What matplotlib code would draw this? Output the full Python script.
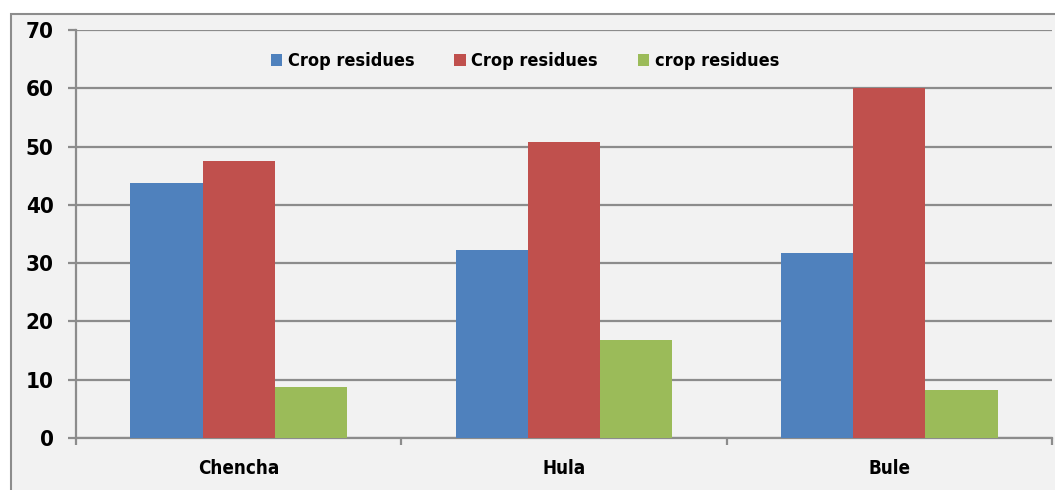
import numpy as np
import matplotlib
matplotlib.use("Agg")
import matplotlib.pyplot as plt
from matplotlib.patches import Rectangle

# residue shares per district
districts = ["Chencha", "Hula", "Bule"]
series_names = ["Crop residues", "Crop residues", "crop residues"]
blue_vals = [43.8, 32.2, 31.7]
red_vals = [47.5, 50.8, 60.0]
green_vals = [8.8, 16.8, 8.2]
colors = ["#4f81bd", "#c0504d", "#9bbb59"]

plt.rcParams['font.family'] = ['DejaVu Sans']
plt.rcParams['font.stretch'] = 'condensed'
plt.rcParams['font.weight'] = 'bold'

fig = plt.figure(figsize=(10.55, 4.9), dpi=100)
fig.patch.set_facecolor("white")

# grey chart area with frame on top and left
bg = Rectangle((11 / 1055, -0.1), 1.2, (490 - 14) / 490 + 0.1,
               transform=fig.transFigure, facecolor="#f2f2f2",
               edgecolor="#8c8c8c", linewidth=1.5, zorder=-10)
fig.patches.append(bg)

ax = fig.add_axes([76 / 1055, 52 / 490, (1052 - 76) / 1055, (438 - 30) / 490])
ax.set_facecolor("#f2f2f2")

x = np.arange(len(districts))
w = 1 / 4.5
for i, vals in enumerate([blue_vals, red_vals, green_vals]):
    ax.bar(x + (i - 1) * w, vals, width=w, color=colors[i],
           label=series_names[i], zorder=3)

ax.set_xlim(-0.5, len(districts) - 0.5)
ax.set_ylim(0, 70)
ax.set_yticks(range(0, 71, 10))
ax.yaxis.grid(True, color="#8c8c8c", linewidth=1.6, zorder=1)
ax.set_axisbelow(True)

ax.set_xticks(x)
ax.set_xticklabels(districts, fontsize=13.5, fontweight="bold")
ax.tick_params(axis="x", length=0, pad=15)
ax.set_xticks(np.arange(-0.5, len(districts), 1), minor=True)
ax.tick_params(axis="x", which="minor", length=5, width=1.6, color="#8c8c8c")
ax.tick_params(axis="y", length=6, width=1.6, color="#8c8c8c",
               labelsize=16, pad=10)
for lab in ax.get_yticklabels():
    lab.set_fontweight("bold")

for side in ["top", "right"]:
    ax.spines[side].set_visible(False)
for side in ["left", "bottom"]:
    ax.spines[side].set_color("#8c8c8c")
    ax.spines[side].set_linewidth(1.6)

leg = ax.legend(loc="upper center", bbox_to_anchor=(0.46, 0.985), ncol=3,
                frameon=False, fontsize=13, handlelength=0.65,
                handleheight=0.65, handletextpad=0.3, columnspacing=2.2)
for t in leg.get_texts():
    t.set_fontweight("bold")

fig.savefig("out.png", dpi=100, facecolor=fig.get_facecolor())
